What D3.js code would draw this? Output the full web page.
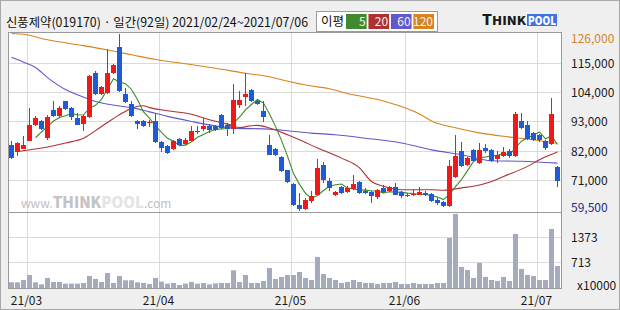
<!DOCTYPE html>
<html>
<head>
<meta charset="utf-8">
<script src="https://cdn.jsdelivr.net/npm/d3@7"></script>
<style>
body { margin: 0; background: #fff; }
text { font-family: "Noto Sans CJK KR", "Noto Sans", sans-serif; }
</style>
</head>
<body>
<script>
var width = 620,
    height = 310;

// daily candles, 2021/02/24 ~ 2021/07/06
var opens  = [84000,81500,82800,85800,91500,93300,86800,97200,94900,100600,98100,94300,92200,94800,111200,103500,103700,111200,121000,103500,
              99700,93300,93300,92300,93000,85300,83600,82600,86400,84500,85800,89100,90300,91200,91100,95300,91800,90300,99300,102100,
              105000,100800,97100,84300,82600,79500,74600,69600,61700,60200,63000,65200,76800,70700,65200,68200,66500,67600,70100,66700,
              66300,64500,68000,66700,68400,66300,64800,65200,65400,66100,65700,63300,62600,61100,72000,81800,76500,82400,77400,83000,
              82400,78900,79900,82000,80100,93300,91800,88700,88000,85800,84700,75800];
var highs  = [85800,85200,87400,98100,94900,93700,95300,100600,98900,100800,98300,96200,95600,110600,111900,106500,120400,114600,126000,105500,
              100600,93700,93700,93700,95800,85500,84300,86200,86800,86600,91200,91200,94300,92200,91800,95800,92500,107100,104300,111200,
              105300,101200,100600,88000,83000,79900,74800,69900,66100,64200,66700,79000,77800,71700,67000,68600,68600,73000,70700,68000,
              66900,67600,69200,68600,69900,66700,66100,67300,68400,66700,66100,64200,63000,78600,87800,85300,79700,82800,84900,84700,
              82800,81800,83500,82800,96600,96200,93300,89100,88400,86200,101800,76200];
var lows   = [79000,79900,82500,85500,91200,89900,85900,94600,94600,97400,93700,91600,89300,94300,103100,103100,103400,110900,103900,100000,
              94600,90300,90800,91000,85000,81500,80900,82400,84000,84300,85500,88200,89300,88500,89500,90200,87400,88300,98200,98700,
              100300,99300,92800,80200,80100,74100,69900,61300,59500,59800,62400,65200,69900,66700,64800,65700,66100,67300,65700,65700,
              62300,64000,65900,66500,65200,64200,64500,64800,65200,64800,62800,61700,60700,60700,71700,75700,76100,78000,77100,81100,
              77800,77400,79700,79300,79700,90200,86200,85500,85200,82400,84300,68200];
var closes = [79300,84900,84300,91500,94300,90200,94800,94900,98100,97800,94600,91800,95200,110200,103500,105800,111200,114400,104300,100300,
              94900,92200,91200,92700,85300,83000,81100,85800,84300,86200,89300,89500,91200,89900,89900,90500,90300,101200,101200,103500,
              100600,99700,94600,80500,80300,74300,70100,61700,60200,63600,64800,75500,71100,68000,66500,66100,68000,69500,66100,66100,
              64800,67300,66300,68200,65400,64800,65400,65800,66300,65200,63000,62400,61100,76100,79900,76100,79300,78300,82400,82000,
              78300,80300,81400,79900,95800,90500,86500,86200,86200,83000,95800,70500];

// volume, x10000 shares
var volumes = [185,185,246,378,185,132,299,194,194,150,150,150,167,352,273,194,431,167,352,238,
               238,185,167,141,299,202,150,167,114,150,194,150,167,132,158,167,167,502,194,378,
               167,167,220,563,273,326,378,378,458,299,246,854,405,299,246,167,194,246,194,167,
               167,141,167,167,194,141,141,167,141,141,141,167,167,1355,1989,590,510,299,695,326,
               246,220,326,220,1461,537,378,352,246,246,1593,616];

// moving averages (candle index, price)
var ma20Idx = [1,6,9,12,15,18,20,22,23,26,30,33,36,38,40,41,43,46,48,51,55,58,60,62,65,70,72,75,77,80,82,86,88,91];
var ma20Val = [81700,83400,84900,86700,91100,95500,98000,98900,98200,97000,95700,93600,92000,90700,91400,91500,90500,88000,86100,83000,
               79200,75500,70400,68600,67300,67300,67100,68000,68600,70400,72300,76100,78600,81500];
var ma60Idx = [0,2,4,6,9,11,14,18,20,23,26,30,33,37,43,46,50,54,59,65,70,75,80,85,91];
var ma60Val = [117100,115300,113300,109500,105000,103000,100500,98800,98200,96600,94900,93000,91700,90500,90100,89500,88600,88000,86700,
               84900,82300,80500,78200,78000,77300];
var ma120Idx = [0,2,6,12,16,20,24,29,34,39,43,45,50,53,56,62,65,68,70,74,78,82,86,91];
var ma120Val = [126100,125800,123700,121500,119900,118100,116300,114700,113000,111100,109800,108700,106300,105300,103500,100700,98600,
                95800,93200,90600,88700,87400,86400,84800];

var priceTicks = [115000,104000,93000,82000,71000];
var volTicks = [713,1373];
var monthIdx = [3,25,47,66,88];
var monthLabels = ["21/03","21/04","21/05","21/06","21/07"];
var maNames = ["5","20","60","120"];
var maColors = ["#3f8a2e","#b03030","#6158cc","#d9831f"];

var UP = "#f01818", DOWN = "#1f5ad8";
var L = 8, R = 561, PT = 32, PB = 212, VB = 288;

var svg = d3.select("body").append("svg")
    .attr("width", width)
    .attr("height", height);

svg.append("rect")
    .attr("x", 0.5).attr("y", 0.5)
    .attr("width", width - 1).attr("height", height - 1)
    .attr("fill", "#efefef").attr("stroke", "#a8a8a8");

svg.append("rect")
    .attr("x", L + 0.5).attr("y", PT + 0.5)
    .attr("width", R - L).attr("height", VB - PT)
    .attr("fill", "#fff");

var x = d3.scaleBand().domain(d3.range(closes.length)).range([L + 0.5, R - 0.5]);
var y = d3.scaleLinear().domain([59500, 126000]).range([210.5, 33.7]);
var vy = d3.scaleLinear().domain([0, 2033]).range([289.3, 212.3]);
var cx = function(i) { return x(i) + 3; };

// grid
var grid = svg.append("g").attr("stroke", "#dadada").attr("shape-rendering", "crispEdges");
grid.selectAll(".hp").data(priceTicks).enter().append("line")
    .attr("x1", L).attr("x2", R)
    .attr("y1", function(d) { return Math.round(y(d)) + 0.5; })
    .attr("y2", function(d) { return Math.round(y(d)) + 0.5; });
grid.selectAll(".hv").data(volTicks).enter().append("line")
    .attr("x1", L).attr("x2", R)
    .attr("y1", function(d) { return Math.round(vy(d)) + 0.5; })
    .attr("y2", function(d) { return Math.round(vy(d)) + 0.5; });
grid.selectAll(".vm").data(monthIdx).enter().append("line")
    .attr("x1", function(d) { return Math.round(x(d)) + 0.5; })
    .attr("x2", function(d) { return Math.round(x(d)) + 0.5; })
    .attr("y1", PT).attr("y2", VB);

// watermark
var wm = svg.append("text").attr("x", 21).attr("y", 208).attr("fill", "#c0c0c0");
wm.append("tspan").attr("font-size", 12).text("www.");
wm.append("tspan").attr("font-size", 15).attr("font-weight", 900).attr("fill", "#c4c4c4").text("THINK");
wm.append("tspan").attr("font-size", 15).attr("font-weight", 900).attr("fill", "#e4e4e4").text("POOL");
wm.append("tspan").attr("font-size", 12).text(".com");

// volume
svg.append("g").selectAll("rect").data(volumes).enter().append("rect")
    .attr("x", function(d, i) { return x(i) + 0.5; })
    .attr("width", 5)
    .attr("y", function(d) { return vy(d); })
    .attr("height", function(d) { return VB - vy(d); })
    .attr("fill", "#a3abbd");

// moving averages
var ma5 = closes.map(function(c, i) {
    return i < 4 ? null : d3.mean(closes.slice(i - 4, i + 1));
});
var lineIdx = d3.line()
    .defined(function(d) { return d != null; })
    .x(function(d, i) { return cx(i); })
    .y(function(d) { return y(d); });
var lineSparse = d3.line()
    .curve(d3.curveMonotoneX)
    .x(function(d) { return cx(d[0]); })
    .y(function(d) { return y(d[1]); });

var maG = svg.append("g").attr("fill", "none").attr("stroke-width", 1.1);
maG.append("path").attr("d", lineSparse(d3.zip(ma120Idx, ma120Val))).attr("stroke", maColors[3]);
maG.append("path").attr("d", lineSparse(d3.zip(ma60Idx, ma60Val))).attr("stroke", maColors[2]);
maG.append("path").attr("d", lineSparse(d3.zip(ma20Idx, ma20Val))).attr("stroke", maColors[1]);
maG.append("path").attr("d", lineIdx(ma5)).attr("stroke", maColors[0]);

// candles
var candle = svg.append("g").attr("shape-rendering", "crispEdges")
    .selectAll("g").data(closes).enter().append("g")
    .attr("fill", function(d, i) { return d >= opens[i] ? UP : DOWN; })
    .attr("stroke", function(d, i) { return d >= opens[i] ? UP : DOWN; });
candle.append("line")
    .attr("x1", function(d, i) { return cx(i); })
    .attr("x2", function(d, i) { return cx(i); })
    .attr("y1", function(d, i) { return y(highs[i]); })
    .attr("y2", function(d, i) { return y(lows[i]); });
candle.append("rect")
    .attr("stroke", "none")
    .attr("x", function(d, i) { return x(i) + 0.5; })
    .attr("width", 5)
    .attr("y", function(d, i) { return y(Math.max(d, opens[i])); })
    .attr("height", function(d, i) { return Math.max(1, Math.abs(y(d) - y(opens[i]))); });

// frame
var frame = svg.append("g").attr("fill", "none").attr("stroke", "#9a9a9a").attr("shape-rendering", "crispEdges");
frame.append("rect").attr("x", L + 0.5).attr("y", PT + 0.5).attr("width", R - L).attr("height", VB - PT);
frame.append("line").attr("x1", L).attr("x2", R).attr("y1", PB + 0.5).attr("y2", PB + 0.5);

// right axis labels
var lab = svg.append("g").attr("font-size", 12).attr("fill", "#1a1a1a");
lab.selectAll(".pt").data(priceTicks).enter().append("text")
    .attr("x", 571).attr("y", function(d) { return y(d) + 5; })
    .text(d3.format(","));
lab.append("text").attr("x", 571).attr("y", y(126000) + 9).attr("fill", "#d4852e").text(d3.format(",")(126000));
lab.append("text").attr("x", 571).attr("y", y(59500) + 1).attr("fill", "#1f2a8a").text(d3.format(",")(59500));
lab.selectAll(".vt").data(volTicks).enter().append("text")
    .attr("x", 571).attr("y", function(d) { return vy(d) + 5; })
    .text(function(d) { return d; });
lab.append("text").attr("x", 577).attr("y", 290).text("x10000");

// month labels
lab.selectAll(".mt").data(monthLabels).enter().append("text")
    .attr("x", function(d, i) { return x(monthIdx[i]); })
    .attr("y", 305)
    .attr("text-anchor", "middle")
    .text(function(d) { return d; });

// header
svg.append("text").attr("x", 6).attr("y", 27).attr("font-size", 12.5).attr("fill", "#111")
    .attr("textLength", 302).attr("lengthAdjust", "spacingAndGlyphs")
    .text("신풍제약(019170) · 일간(92일) 2021/02/24~2021/07/06");

var leg = svg.append("g");
leg.append("rect").attr("x", 316.5).attr("y", 11.5).attr("width", 121).attr("height", 20)
    .attr("fill", "#fff").attr("stroke", "#9a9a9a");
leg.append("text").attr("x", 321).attr("y", 26).attr("font-size", 12.5).attr("fill", "#111").text("이평");
var legX = d3.scaleBand().domain(d3.range(4)).range([346, 434]).paddingInner(0.08);
leg.selectAll(".lb").data(maNames).enter().append("rect")
    .attr("x", function(d, i) { return legX(i); })
    .attr("y", 14).attr("width", legX.bandwidth()).attr("height", 15)
    .attr("fill", function(d, i) { return maColors[i]; });
leg.selectAll(".lt").data(maNames).enter().append("text")
    .attr("x", function(d, i) { return legX(i) + legX.bandwidth() - 1; })
    .attr("y", 26).attr("text-anchor", "end").attr("font-size", 12).attr("fill", "#f4f4f4")
    .text(function(d) { return d; });

// logo
var logoFont = "'DejaVu Sans', sans-serif";
svg.append("rect").attr("x", 527).attr("y", 14).attr("width", 30).attr("height", 12).attr("fill", "#3f73e0");
svg.append("text").attr("x", 482).attr("y", 25).attr("font-weight", 900).attr("font-family", logoFont)
    .attr("font-size", 14).attr("fill", "#1a1a1a")
    .attr("textLength", 10).attr("lengthAdjust", "spacingAndGlyphs").text("T");
svg.append("text").attr("x", 492).attr("y", 25).attr("font-weight", 900).attr("font-family", logoFont)
    .attr("font-size", 11).attr("fill", "#1a1a1a")
    .attr("textLength", 34).attr("lengthAdjust", "spacingAndGlyphs").text("HINK");
svg.append("text").attr("x", 528).attr("y", 25).attr("font-weight", 900).attr("font-family", logoFont)
    .attr("font-size", 12).attr("fill", "#fff")
    .attr("textLength", 28).attr("lengthAdjust", "spacingAndGlyphs").text("POOL");
</script>
</body>
</html>
